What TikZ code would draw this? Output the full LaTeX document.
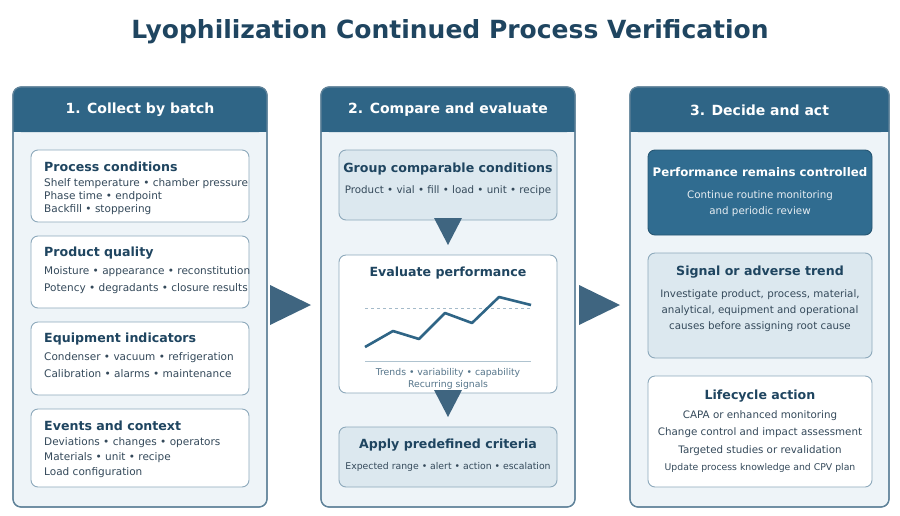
\documentclass[tikz,border=0pt]{standalone}
\usepackage{fontspec}
\setmainfont{DejaVu Sans}
\definecolor{ink}{HTML}{1F4560}
\definecolor{head}{HTML}{2F6586}
\definecolor{frame}{HTML}{5F8299}
\definecolor{cardline}{HTML}{8DA9BB}
\definecolor{paper}{HTML}{EEF4F8}
\definecolor{tint}{HTML}{DCE8EF}
\definecolor{deep}{HTML}{306C90}
\definecolor{txt}{HTML}{34495A}
\definecolor{flowc}{HTML}{3F6580}
\begin{document}
\begin{tikzpicture}[x=1pt, y=-1pt,
    panel/.style={draw=frame, line width=1.2pt, fill=paper, rounded corners=8pt},
    card/.style={draw=cardline, line width=0.9pt, fill=white, rounded corners=7pt},
    ttl/.style={font=\bfseries\fontsize{12.6}{15}\selectfont, text=ink},
    body/.style={font=\fontsize{10.5}{13}\selectfont, text=txt, align=left},
    mid/.style={font=\fontsize{10.3}{16}\selectfont, text=txt, align=center},
    flow/.style={fill=flowc}
]
  \useasboundingbox (0,0) rectangle (900,515);
  \node[font=\bfseries\fontsize{25}{28}\selectfont, text=ink] (title) at (450,32) {Lyophilization Continued Process Verification};

  % three panels with headers
  \foreach \x/\w/\txt in {13/254/1. Collect by batch, 321/254/2. Compare and evaluate, 630/259/3. Decide and act}{
    \draw[panel] (\x,87) rectangle ++(\w,420);
    \fill[head, rounded corners=8pt] (\x,87) rectangle ++(\w,45);
    \fill[head] (\x,115) rectangle ++(\w,17);
    \draw[frame, line width=1.2pt, rounded corners=8pt] (\x,87) rectangle ++(\w,420);
    \node[font=\bfseries\fontsize{14}{16}\selectfont, text=white] at (\x+\w/2,110) {\txt};
  }

  % panel 1 cards
  \foreach \y/\h/\name in {150/72/proc, 236/72/qual, 322/73/equip, 409/78/event}
    \draw[card] (31,\y) rectangle ++(218,\h) coordinate (\name);
  \node[ttl, anchor=west, inner sep=0pt] (t1) at (44,167) {Process conditions};
  \node[body, anchor=north west, inner sep=0pt] at (44,178) {Shelf temperature • chamber pressure\\Phase time • endpoint\\Backfill • stoppering};
  \node[ttl, anchor=west, inner sep=0pt] (t2) at (44,253) {Product quality};
  \node[body, anchor=north west, inner sep=0pt, font=\fontsize{10.5}{17}\selectfont] at (44,266) {Moisture • appearance • reconstitution\\Potency • degradants • closure results};
  \node[ttl, anchor=west, inner sep=0pt] (t3) at (44,339) {Equipment indicators};
  \node[body, anchor=north west, inner sep=0pt, font=\fontsize{10.5}{17}\selectfont] at (44,352) {Condenser • vacuum • refrigeration\\Calibration • alarms • maintenance};
  \node[ttl, anchor=west, inner sep=0pt] (t4) at (44,426) {Events and context};
  \node[body, anchor=north west, inner sep=0pt, font=\fontsize{10.5}{15}\selectfont] at (44,437) {Deviations • changes • operators\\Materials • unit • recipe\\Load configuration};

  % panel 2
  \draw[card, fill=tint] (339,150) rectangle (557,220);
  \node[ttl] at (448,169) {Group comparable conditions};
  \node[mid] at (448,191) {Product • vial • fill • load • unit • recipe};
  \draw[card] (339,255) rectangle (557,393);
  \node[ttl] at (448,273) {Evaluate performance};
  \draw[cardline!80, dashed, line width=1pt] (365,308) -- (531,308);
  \draw[cardline!70, line width=1pt] (365,361) -- (531,361);
  \draw[head, line width=2.6pt, line join=round] (365,347) -- (393,331) -- (419,339) -- (445,313) -- (472,323) -- (499,297) -- (531,305);
  \node[mid, font=\fontsize{9.3}{12}\selectfont, text=frame!90!black] at (448,379) {Trends • variability • capability\\Recurring signals};
  \draw[card, fill=tint] (339,427) rectangle (557,487);
  \node[ttl] at (448,445) {Apply predefined criteria};
  \node[mid, font=\fontsize{9.3}{12}\selectfont] at (448,467) {Expected range • alert • action • escalation};
  \fill[flow] (434,218) -- (462,218) -- (448,245) -- cycle;
  \fill[flow] (434,390) -- (462,390) -- (448,417) -- cycle;

  % panel 3
  \draw[card, fill=deep, draw=deep!80!black] (648,150) rectangle (872,235);
  \node[ttl, text=white, font=\bfseries\fontsize{11.8}{15}\selectfont] at (760,172) {Performance remains controlled};
  \node[mid, text=white!88!deep] at (760,204) {Continue routine monitoring\\and periodic review};
  \draw[card, fill=tint] (648,253) rectangle (872,358);
  \node[ttl] at (760,272) {Signal or adverse trend};
  \node[mid] at (760,311) {Investigate product, process, material,\\analytical, equipment and operational\\causes before assigning root cause};
  \draw[card] (648,376) rectangle (872,487);
  \node[ttl] at (760,396) {Lifecycle action};
  \node[mid, font=\fontsize{10.3}{17.5}\selectfont] at (760,433) {CAPA or enhanced monitoring\\Change control and impact assessment\\Targeted studies or revalidation};
  \node[mid, font=\fontsize{9.3}{11}\selectfont] at (760,468) {Update process knowledge and CPV plan};

  % flow arrows between panels
  \fill[flow] (270,285) -- (311,305) -- (270,325) -- cycle;
  \fill[flow] (579,285) -- (620,305) -- (579,325) -- cycle;
\end{tikzpicture}
\end{document}
